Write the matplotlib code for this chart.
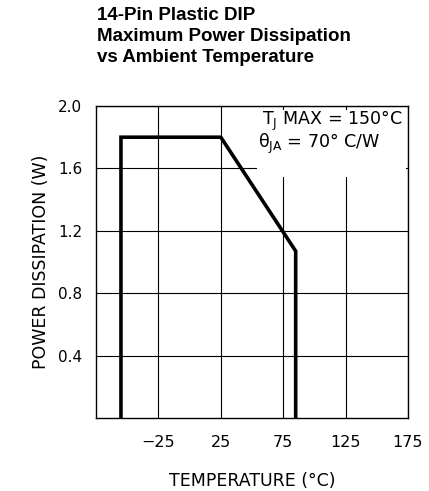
import matplotlib
matplotlib.use('Agg')
import matplotlib.pyplot as plt
from matplotlib.patches import Rectangle

# derating curve
temp = [-55, -55, 25, 85, 85]
power = [0.0, 1.8, 1.8, 1.07, 0.0]

x_ticks = [-25, 25, 75, 125, 175]
y_ticks = [0.4, 0.8, 1.2, 1.6, 2.0]

title_lines = ['14-Pin Plastic DIP',
               'Maximum Power Dissipation',
               'vs Ambient Temperature']

note_lines = ['T$_\\mathregular{J}$ MAX = 150\u00b0C',
              '\u03b8$_\\mathregular{JA}$ = 70\u00b0 C/W']

fig = plt.figure(figsize=(4.29, 4.91), dpi=100)
ax = fig.add_axes([96/429, 1 - 418/491, 312/429, 312/491])

ax.plot(temp, power, color='black', linewidth=2.6, solid_joinstyle='miter', zorder=3)

ax.set_xlim(-75, 175)
ax.set_ylim(0, 2.0)
ax.set_xticks(x_ticks)
ax.set_yticks(y_ticks)
ax.set_xticklabels([f'{t}'.replace('-', '\u2212') for t in x_ticks])
ax.set_yticklabels([f'{v:.1f}' for v in y_ticks])
ax.tick_params(length=0, labelsize=11, colors='black')
ax.tick_params(axis='x', labelsize=11.5, pad=12)
ax.tick_params(axis='y', pad=10)
ax.grid(True, color='black', linewidth=0.8)
ax.set_axisbelow(True)
for s in ax.spines.values():
    s.set_linewidth(1.0)
    s.set_color('black')

ax.set_xlabel('TEMPERATURE (\u00b0C)', fontsize=12.5, labelpad=16)
ax.set_ylabel('POWER DISSIPATION (W)', fontsize=12.5, labelpad=6)

# white patch hiding the grid behind the annotation
ax.add_patch(Rectangle((0.516, 0.772), 0.478, 0.215, transform=ax.transAxes,
                       facecolor='white', edgecolor='none', zorder=2))

note_pos = [(262, 125), (258, 148)]  # left edge / baseline in pixels
for line, (px, py) in zip(note_lines, note_pos):
    ax.text((px - 96) / 312, (418 - py) / 312, line,
            transform=ax.transAxes, ha='left', va='baseline', fontsize=12.6,
            zorder=4)

# title, three lines left aligned with the axes
baselines = [19.7, 40.7, 61.7]
for line, yb in zip(title_lines, baselines):
    fig.text(97/429, 1 - yb/491, line, fontsize=13.5, fontweight='bold',
             family='Liberation Sans', ha='left', va='baseline')

fig.savefig('out.png', dpi=100)
